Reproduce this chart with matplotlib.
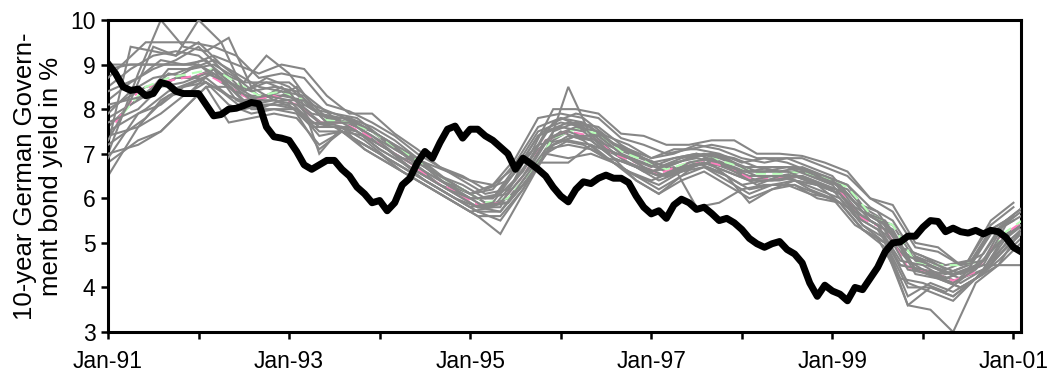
import numpy as np
import matplotlib
matplotlib.use("Agg")
import matplotlib.pyplot as plt

plt.rcParams['font.family'] = ['Liberation Sans', 'DejaVu Sans']

# Actual 10-year German government bond yield, monthly from Jan-91
actual = [9.02, 8.8, 8.5, 8.42, 8.45, 8.3, 8.35, 8.6, 8.55, 8.4, 8.35, 8.35,
          8.35, 8.1, 7.85, 7.88, 8.0, 8.02, 8.08, 8.15, 8.12, 7.6, 7.38, 7.35,
          7.3, 7.05, 6.75, 6.65, 6.75, 6.85, 6.85, 6.65, 6.5, 6.25, 6.1, 5.9,
          5.95, 5.72, 5.9, 6.3, 6.45, 6.8, 7.05, 6.9, 7.25, 7.55, 7.62, 7.35,
          7.55, 7.55, 7.4, 7.3, 7.15, 7.0, 6.65, 6.9, 6.78, 6.65, 6.5, 6.25,
          6.05, 5.92, 6.2, 6.37, 6.33, 6.45, 6.52, 6.45, 6.45, 6.35, 6.05, 5.8,
          5.65, 5.72, 5.55, 5.85, 5.98, 5.9, 5.75, 5.8, 5.66, 5.5, 5.55, 5.45,
          5.3, 5.1, 4.98, 4.9, 4.98, 5.03, 4.85, 4.75, 4.55, 4.1, 3.8, 4.05,
          3.92, 3.85, 3.7, 4.0, 3.95, 4.2, 4.45, 4.8, 5.0, 5.02, 5.15, 5.15,
          5.35, 5.5, 5.48, 5.25, 5.33, 5.25, 5.22, 5.28, 5.2, 5.28, 5.25, 5.12,
          4.9, 4.8]

# Individual forecast paths, quarterly from Jan-91
g01 = [7.2, 9.4, 9.3, 9.2, 9.5, 9.0, 8.6, 9.2, 8.8, 8.1, 7.9, 7.8, 7.4, 7.0, 6.8, 6.4, 6.1, 6.3, 6.9, 7.8, 7.9, 7.8, 7.4, 7.2, 6.9, 7.0, 7.2, 7.1, 6.9, 6.8, 6.9, 6.7, 6.5, 5.9, 5.7, 4.9, 4.7, 4.4, 4.6, 5.4, 5.8]
g02 = [6.5, 7.6, 7.9, 8.3, 8.6, 8.1, 7.9, 8.0, 7.9, 7.1, 7.5, 7.2, 6.9, 6.6, 6.3, 6.0, 5.7, 5.5, 6.2, 7.1, 7.2, 7.1, 6.8, 6.5, 6.2, 6.5, 6.7, 6.4, 6.1, 6.3, 6.3, 6.1, 5.9, 5.3, 5.0, 3.8, 4.1, 3.9, 4.2, 4.6, 5.1]
g03 = [7.8, 8.3, 8.8, 8.7, 8.9, 8.5, 8.2, 8.4, 8.1, 7.8, 7.7, 7.5, 7.2, 6.9, 6.4, 6.2, 5.9, 5.9, 6.5, 7.3, 7.6, 7.5, 7.1, 6.9, 6.7, 6.9, 7.0, 6.8, 6.6, 6.6, 6.6, 6.5, 6.3, 5.6, 5.4, 4.6, 4.4, 4.2, 4.4, 5.2, 5.5]
g04 = [8.9, 9.0, 9.0, 9.0, 9.0, 8.6, 8.3, 8.3, 8.3, 7.9, 7.8, 7.6, 7.3, 7.0, 6.6, 6.3, 6.0, 6.0, 6.7, 7.5, 7.7, 7.6, 7.2, 7.0, 6.8, 6.9, 7.0, 6.9, 6.7, 6.7, 6.7, 6.6, 6.4, 5.8, 5.5, 4.8, 4.6, 4.3, 4.5, 5.3, 5.6]
g05 = [7.0, 8.8, 10.0, 9.4, 9.3, 9.6, 8.5, 8.2, 8.5, 7.0, 7.6, 7.1, 6.8, 6.5, 6.2, 5.9, 5.6, 5.2, 6.1, 7.0, 8.5, 7.4, 6.9, 6.4, 6.1, 6.5, 6.9, 6.5, 5.9, 6.2, 6.4, 6.3, 5.9, 5.3, 5.0, 3.6, 3.5, 3.0, 4.1, 4.5, 5.3]
g06 = [7.5, 8.0, 8.4, 8.6, 8.8, 8.4, 8.2, 8.5, 8.0, 7.6, 7.6, 7.3, 7.0, 6.7, 6.3, 6.1, 5.8, 6.0, 6.6, 7.2, 7.4, 7.3, 6.9, 6.6, 6.5, 6.7, 6.8, 6.6, 6.4, 6.4, 6.5, 6.3, 6.1, 5.5, 5.2, 4.3, 4.2, 4.0, 4.3, 5.0, 5.4]
g07 = [8.2, 8.6, 8.9, 9.1, 9.4, 8.9, 8.4, 8.7, 8.5, 8.0, 7.9, 7.7, 7.4, 7.1, 6.7, 6.3, 6.1, 6.2, 6.8, 7.6, 7.8, 7.7, 7.3, 7.1, 6.9, 7.1, 7.1, 7.0, 6.8, 6.9, 6.8, 6.6, 6.4, 5.9, 5.6, 4.9, 4.7, 4.5, 4.6, 5.5, 5.9]
g08 = [6.8, 7.3, 7.5, 8.0, 8.5, 7.7, 7.8, 7.9, 7.8, 7.2, 7.5, 7.1, 6.8, 6.5, 6.2, 5.9, 5.6, 5.6, 6.2, 7.0, 6.9, 7.0, 6.8, 6.4, 6.1, 6.4, 6.6, 6.3, 6.0, 6.2, 6.3, 6.0, 5.9, 5.3, 4.9, 3.6, 4.0, 3.8, 4.2, 4.5, 5.0]
g09 = [8.0, 8.5, 8.6, 8.9, 9.0, 8.7, 8.3, 8.3, 8.2, 7.7, 7.7, 7.5, 7.1, 6.8, 6.5, 6.2, 5.9, 5.9, 6.5, 7.4, 7.6, 7.4, 7.0, 6.8, 6.6, 6.8, 6.9, 6.7, 6.5, 6.5, 6.6, 6.4, 6.2, 5.6, 5.3, 4.4, 4.3, 4.1, 4.4, 5.1, 5.5]
g10 = [8.5, 8.9, 9.2, 9.3, 9.2, 8.8, 8.6, 8.6, 8.6, 8.2, 7.8, 7.6, 7.2, 6.9, 6.8, 6.6, 6.4, 6.3, 6.7, 7.2, 7.3, 7.2, 6.9, 6.8, 6.6, 6.7, 5.8, 5.9, 6.2, 6.3, 6.3, 6.1, 6.0, 5.7, 5.4, 4.5, 4.4, 4.3, 4.5, 5.2, 5.5]
g11 = [7.4, 7.6, 8.2, 8.5, 8.6, 8.3, 8.1, 8.1, 8.0, 7.5, 7.5, 7.4, 7.1, 6.7, 6.4, 6.1, 5.8, 5.8, 6.8, 6.8, 6.8, 7.2, 7.0, 6.7, 6.5, 6.6, 6.8, 6.7, 6.5, 6.5, 6.4, 6.3, 6.1, 5.5, 5.2, 4.6, 4.3, 4.1, 4.5, 4.5, 4.5]
g12 = [9.0, 9.0, 9.0, 9.0, 9.2, 9.0, 8.8, 9.0, 8.9, 8.3, 7.9, 7.9, 7.45, 7.1, 6.7, 6.5, 6.2, 6.4, 7.0, 8.0, 8.0, 7.9, 7.45, 7.4, 7.2, 7.2, 7.3, 7.3, 7.0, 7.0, 6.95, 6.8, 6.6, 6.0, 5.85, 5.0, 4.9, 4.5, 4.75, 5.5, 5.9]
g13 = [7.6, 8.1, 8.5, 8.7, 8.7, 8.4, 8.0, 8.1, 8.1, 7.6, 7.6, 7.3, 7.0, 6.6, 6.3, 6.0, 5.7, 5.8, 6.4, 7.1, 7.5, 7.3, 6.9, 6.6, 6.4, 6.6, 6.8, 6.6, 6.3, 6.4, 6.5, 6.2, 6.0, 5.4, 5.1, 4.2, 4.1, 3.9, 4.3, 4.8, 5.3]
g14 = [8.4, 8.7, 9.1, 9.0, 9.1, 8.6, 8.4, 8.5, 8.4, 7.9, 7.8, 7.6, 7.3, 6.9, 6.6, 6.3, 6.0, 6.1, 6.6, 7.5, 7.7, 7.6, 7.2, 7.0, 6.7, 6.9, 7.0, 6.9, 6.6, 6.7, 6.7, 6.5, 6.3, 5.7, 5.5, 4.7, 4.5, 4.3, 4.5, 5.3, 5.7]
g15 = [7.2, 7.8, 8.3, 8.4, 8.9, 8.2, 8.0, 8.2, 8.2, 7.7, 7.7, 7.4, 7.0, 6.7, 6.4, 6.1, 5.8, 5.9, 6.5, 7.2, 7.4, 7.4, 7.0, 6.7, 6.5, 6.8, 6.9, 6.6, 6.3, 6.5, 6.5, 6.3, 6.1, 5.5, 5.2, 4.4, 4.2, 4.0, 4.3, 4.9, 5.4]
g16 = [7.9, 8.4, 8.7, 8.8, 9.0, 8.7, 8.2, 8.3, 8.2, 7.7, 7.65, 7.5, 7.1, 6.8, 6.5, 6.2, 6.0, 6.0, 6.6, 7.4, 7.6, 7.5, 7.1, 6.9, 6.6, 6.8, 6.9, 6.8, 6.6, 6.6, 6.6, 6.4, 6.2, 5.6, 5.3, 4.5, 4.4, 4.2, 4.4, 5.2, 5.6]
g17 = [7.0, 7.2, 7.5, 8.0, 8.5, 8.5, 8.0, 8.0, 8.0, 7.4, 7.5, 7.2, 6.9, 6.6, 6.3, 6.0, 5.7, 5.7, 6.3, 7.0, 7.3, 7.2, 6.8, 6.5, 6.3, 6.6, 6.7, 6.5, 6.2, 6.3, 6.4, 6.2, 6.0, 5.4, 5.0, 4.0, 4.0, 3.8, 4.2, 4.7, 5.2]
g18 = [8.7, 9.5, 9.5, 9.5, 9.4, 9.2, 8.7, 8.8, 8.7, 8.1, 7.95, 7.7, 7.4, 7.0, 6.7, 6.4, 6.1, 6.2, 6.9, 7.7, 7.9, 7.8, 7.35, 7.2, 7.0, 7.1, 7.2, 7.1, 6.9, 6.9, 6.9, 6.7, 6.5, 6.0, 5.7, 4.9, 4.8, 4.5, 4.6, 5.5, 5.9]
g19 = [7.3, 8.2, 9.4, 9.2, 10.0, 9.5, 8.4, 8.6, 8.4, 7.7, 7.6, 7.5, 7.1, 6.8, 6.4, 6.1, 5.8, 5.9, 6.6, 7.4, 7.8, 7.6, 7.1, 6.9, 6.7, 6.9, 7.0, 6.8, 6.6, 6.6, 6.7, 6.5, 6.3, 5.7, 5.4, 4.6, 4.5, 4.2, 4.4, 5.3, 5.6]
g20 = [6.9, 7.9, 8.1, 8.5, 8.7, 8.3, 8.1, 8.2, 8.0, 7.6, 7.6, 7.3, 6.9, 6.6, 6.3, 6.0, 5.8, 5.7, 6.4, 7.1, 7.4, 7.3, 6.9, 6.7, 6.4, 6.6, 6.8, 6.6, 6.4, 6.4, 6.5, 6.3, 6.1, 5.4, 5.1, 4.1, 3.9, 3.7, 4.2, 4.8, 5.3]
g21 = [8.1, 8.3, 8.9, 8.9, 9.1, 8.8, 8.5, 8.4, 8.3, 7.8, 7.8, 7.6, 7.3, 6.9, 6.5, 6.3, 6.0, 6.1, 6.7, 7.5, 7.7, 7.6, 7.2, 6.9, 6.7, 6.9, 7.0, 6.9, 6.7, 6.6, 6.7, 6.5, 6.3, 5.8, 5.5, 4.7, 4.5, 4.3, 4.5, 5.4, 5.7]
g22 = [7.7, 8.0, 8.5, 8.6, 8.8, 8.6, 8.2, 8.2, 8.1, 7.7, 7.7, 7.4, 7.1, 6.7, 6.4, 6.1, 5.8, 5.9, 6.5, 7.3, 7.5, 7.3, 6.9, 6.7, 6.5, 6.7, 6.8, 6.6, 6.4, 6.5, 6.5, 6.3, 6.1, 5.6, 5.3, 4.4, 4.3, 4.1, 4.4, 5.0, 5.4]
gray_series = [g01, g02, g03, g04, g05, g06, g07, g08, g09, g10, g11,
               g12, g13, g14, g15, g16, g17, g18, g19, g20, g21, g22]
gray_shift = [0, 1, 2, 0, 1, 2, 0, 1, 2, 0, 1, 2, 0, 1, 2, 0, 1, 2, 0, 1, 2, 1]

# Average forecasts (dashed)
pink = [7.7, 8.4, 8.6, 8.7, 8.8, 8.5, 8.2, 8.3, 8.1, 7.7, 7.7, 7.45, 7.1, 6.8, 6.4, 6.15, 5.85, 5.9, 6.5, 7.3, 7.5, 7.4, 7.0, 6.8, 6.55, 6.75, 6.85, 6.7, 6.45, 6.45, 6.5, 6.35, 6.15, 5.55, 5.3, 4.45, 4.35, 4.15, 4.35, 5.1, 5.45]
green = [7.9, 8.5, 8.7, 8.8, 8.9, 8.6, 8.3, 8.4, 8.2, 7.75, 7.7, 7.5, 7.15, 6.85, 6.5, 6.2, 5.9, 6.0, 6.6, 7.35, 7.55, 7.45, 7.05, 6.85, 6.65, 6.8, 6.9, 6.75, 6.55, 6.55, 6.6, 6.45, 6.25, 5.65, 5.4, 4.55, 4.5, 4.5, 4.6, 5.25, 5.6]

xtick_labels = ['Jan-91', '', 'Jan-93', '', 'Jan-95', '', 'Jan-97', '', 'Jan-99', '', 'Jan-01']
yticks = [3, 4, 5, 6, 7, 8, 9, 10]

fig = plt.figure(figsize=(10.5, 3.81), dpi=100)
ax = fig.add_axes([108/1050, 1 - 332/381, (1021 - 108)/1050, (332 - 20)/381])

months_actual = np.arange(len(actual))
q = np.arange(len(g01))

for i, (s, sh) in enumerate(zip(gray_series, gray_shift)):
    xm = 3 * q + sh
    xm[0] = 0
    ax.plot(xm, s, color='#868686', lw=1.5, zorder=2 if i < 13 else 4,
            solid_joinstyle='miter')
    if i == 12:
        ax.plot(3 * q + 1, pink, color='#ff7fbf', lw=1.5, ls=(0, (5, 3)), zorder=3)
        ax.plot(3 * q + 2, green, color='#b8ffb8', lw=1.5, ls=(0, (5, 3)), zorder=3)

ax.plot(months_actual, actual, color='black', lw=5.0, zorder=5, solid_joinstyle='round')

ax.set_xlim(0, 121)
ax.set_ylim(3, 10)
ax.set_xticks(np.arange(0, 121, 12))
ax.set_xticklabels(xtick_labels)
ax.set_yticks(yticks)
ax.tick_params(axis='both', direction='out', length=5, width=1.8, labelsize=16.5, colors='black')
ax.tick_params(axis='x', pad=8)
ax.tick_params(axis='y', pad=4)
for sp in ax.spines.values():
    sp.set_linewidth(2.2)
    sp.set_color('black')
ax.set_ylabel('10-year German Govern-\nment bond yield in %', fontsize=18.5, linespacing=1.12, labelpad=5)

fig.savefig('out.png', dpi=100)
